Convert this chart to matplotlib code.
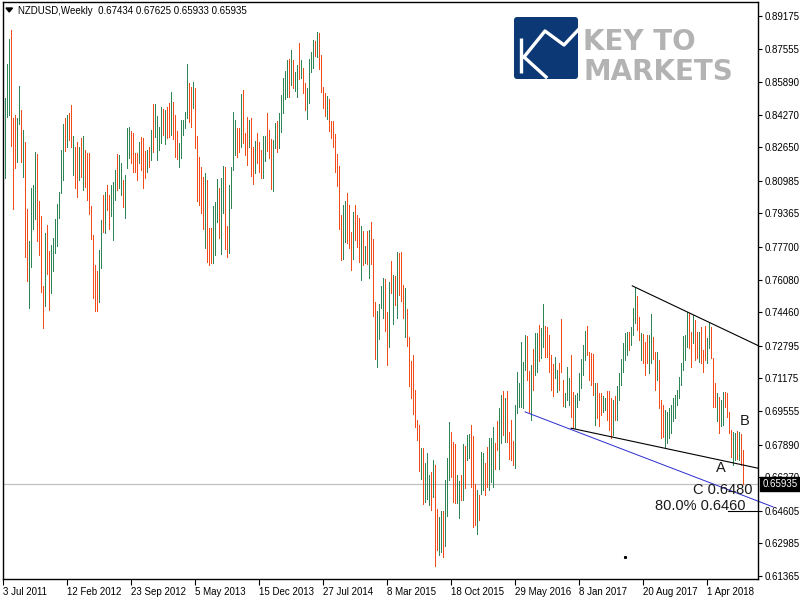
import numpy as np
import pandas as pd
import matplotlib
matplotlib.use('Agg')
import matplotlib.pyplot as plt
import matplotlib.transforms as mtransforms
from matplotlib.patches import FancyBboxPatch, Polygon

# NZDUSD weekly bars, 3 Jul 2011 .. 5 Aug 2018
start_date = '2011-07-03'

highs = [
    .8386, .8510, .8679, .8803, .8848, .8411, .8426, .8410, .8570, .8450,
    .8350, .8292, .7959, .7800, .8063, .8078, .8242, .8232, .8000, .7924,
    .7577, .7840, .7880, .7750, .7780, .7815, .7909, .7984, .8043, .8252,
    .8381, .8411, .8426, .8436, .8476, .8322, .8267, .8292, .8267, .8312,
    .8322, .8252, .8237, .8237, .7974, .7830, .7681, .7651, .7755, .7904,
    .8029, .8044, .8078, .8029, .8078, .8093, .8153, .8232, .8227, .8188,
    .8103, .8128, .8361, .8366, .8346, .8336, .8237, .8237, .8292, .8317,
    .8312, .8247, .8252, .8267, .8351, .8481, .8481, .8421, .8366, .8466,
    .8456, .8451, .8466, .8486, .8540, .8491, .8426, .8346, .8287, .8401,
    .8401, .8441, .8679, .8585, .8565, .8590, .8560, .8322, .8217, .8168,
    .8118, .8138, .8103, .7865, .7865, .7974, .7994, .8108, .8063, .8113,
    .8173, .8168, .7875, .8078, .8168, .8441, .8401, .8361, .8361, .8530,
    .8550, .8336, .8416, .8401, .8411, .8267, .8297, .8336, .8292, .8252,
    .8322, .8322, .8436, .8351, .8307, .8302, .8386, .8396, .8436, .8525,
    .8610, .8644, .8699, .8704, .8749, .8699, .8639, .8674, .8783, .8699,
    .8659, .8585, .8560, .8704, .8739, .8798, .8793, .8838, .8833, .8724,
    .8565, .8535, .8520, .8505, .8396, .8396, .8332, .8232, .8173, .7929,
    .7979, .7999, .8039, .7979, .7845, .7944, .7979, .7929, .7914, .7875,
    .7850, .7775, .7850, .7855, .7895, .7810, .7497, .7453, .7487, .7577,
    .7616, .7611, .7448, .7597, .7701, .7631, .7626, .7746, .7741, .7746,
    .7582, .7567, .7463, .7323, .7204, .7234, .7060, .6911, .6886, .6772,
    .6772, .6698, .6747, .6638, .6653, .6713, .6688, .6469, .6430, .6459,
    .6459, .6613, .6723, .6901, .6852, .6800, .6792, .6640, .6608, .6640,
    .6792, .6782, .6837, .6842, .6886, .6832, .6594, .6564, .6539, .6752,
    .6747, .6698, .6777, .6822, .6822, .6877, .6797, .6906, .6971, .7036,
    .7055, .7021, .7055, .6852, .6911, .6807, .6986, .7150, .7095, .7299,
    .7200, .7334, .7329, .7155, .7184, .7264, .7344, .7344, .7383, .7368,
    .7487, .7378, .7373, .7334, .7234, .7189, .7224, .7160, .7194, .7413,
    .7110, .7046, .7175, .7120, .7234, .7051, .7036, .7046, .7145, .7214,
    .7284, .7353, .7378, .7249, .7244, .7239, .7095, .7095, .7046, .7046,
    .7031, .7021, .7055, .7055, .7021, .7011, .7031, .7080, .7145, .7214,
    .7294, .7344, .7348, .7348, .7374, .7467, .7567, .7526, .7423, .7344,
    .7339, .7299, .7334, .7334, .7438, .7324, .7249, .7249, .7209, .7011,
    .6986, .6961, .6951, .6971, .6986, .7021, .7036, .7060, .7125, .7194,
    .7329, .7334, .7448, .7443, .7348, .7433, .7408, .7348, .7348, .7373,
    .7260, .7378, .7318, .7398, .7373, .7219, .7095, .7046, .7026, .7011,
    .7051, .7051, .7046, .6951, .6862, .6852, .6847, .6857, .6852, .6842,
    .67625,
]

lows = [
    .8237, .8113, .8416, .8426, .8272, .7959, .8163, .8190, .8380, .8190,
    .8120, .7721, .7601, .7467, .7671, .7860, .7909, .7800, .7730, .7547,
    .7368, .7477, .7636, .7457, .7542, .7651, .7740, .7775, .7914, .8039,
    .8103, .8247, .8267, .8302, .8267, .8128, .8063, .8019, .8103, .8118,
    .8053, .8068, .8004, .7934, .7810, .7517, .7453, .7453, .7497, .7666,
    .7845, .7840, .7954, .7860, .7924, .7805, .8004, .8053, .8063, .8029,
    .7969, .7914, .8162, .8212, .8188, .8143, .8143, .8103, .8188, .8153,
    .8063, .8113, .8143, .8168, .8202, .8242, .8317, .8202, .8252, .8287,
    .8327, .8282, .8312, .8317, .8327, .8307, .8217, .8207, .8168, .8212,
    .8327, .8361, .8411, .8391, .8366, .8461, .8262, .7999, .7979, .7939,
    .7860, .7766, .7696, .7681, .7691, .7691, .7731, .7895, .7815, .7736,
    .7939, .7761, .7721, .7741, .7964, .8153, .8227, .8217, .8242, .8267,
    .8287, .8227, .8178, .8267, .8123, .8083, .8138, .8188, .8143, .8113,
    .8113, .8198, .8247, .8212, .8058, .8049, .8262, .8242, .8262, .8341,
    .8436, .8505, .8515, .8515, .8575, .8560, .8545, .8515, .8605, .8610,
    .8535, .8451, .8406, .8486, .8639, .8659, .8719, .8714, .8654, .8540,
    .8461, .8421, .8406, .8346, .8312, .8267, .8143, .8073, .7860, .7706,
    .7711, .7795, .7790, .7765, .7656, .7711, .7805, .7770, .7696, .7607,
    .7681, .7691, .7686, .7616, .7686, .7428, .7214, .7175, .7314, .7467,
    .7418, .7353, .7184, .7274, .7542, .7388, .7482, .7418, .7532, .7502,
    .7418, .7324, .7279, .7080, .7020, .6941, .6877, .6812, .6658, .6618,
    .6494, .6504, .6519, .6489, .6464, .6529, .6186, .6266, .6241, .6256,
    .6231, .6286, .6435, .6613, .6628, .6504, .6499, .6499, .6425, .6514,
    .6514, .6574, .6713, .6720, .6579, .6380, .6390, .6345, .6415, .6544,
    .6564, .6539, .6579, .6564, .6604, .6579, .6668, .6762, .6668, .6797,
    .6837, .6802, .6802, .6718, .6713, .6688, .6673, .6946, .6976, .6976,
    .6971, .7160, .7110, .6951, .6911, .7060, .7135, .7150, .7204, .7219,
    .7274, .7224, .7224, .7150, .7060, .7031, .7120, .7051, .7060, .7150,
    .6980, .6976, .7011, .6986, .6926, .6872, .6872, .6976, .7011, .7070,
    .7135, .7209, .7234, .7110, .7085, .7036, .6886, .6921, .6882, .6936,
    .6951, .6961, .6911, .6862, .6822, .6837, .6911, .6911, .7011, .7085,
    .7150, .7209, .7234, .7259, .7284, .7333, .7393, .7358, .7309, .7209,
    .7194, .7135, .7194, .7145, .7194, .7214, .7060, .7110, .6971, .6822,
    .6827, .6777, .6797, .6822, .6847, .6906, .6921, .6986, .7021, .7085,
    .7160, .7209, .7274, .7269, .7175, .7294, .7209, .7219, .7199, .7194,
    .7150, .7209, .7194, .7269, .7219, .6976, .6976, .6906, .6847, .6882,
    .6887, .6976, .6926, .6847, .6728, .6688, .6713, .6718, .6713, .6688,
    .65933,
]

# u = bar closed above its open (green), d = below (red)
direction = (
    "uuuuddduud" "udduuuuddd" "dudduuuuuu" "ududduddud" "uddddddduu"
    "dudduuuduu" "duuuddddud" "ddududuuuu" "dudduddduu" "uuuddudddd"
    "duddduuudu" "udduuuuddu" "dddudduddd" "uuddduuduu" "uuududuudu"
    "dduuuududd" "dduddddddd" "uudddudddu" "dududdduuu" "uddudududd"
    "dudddddddu" "duuududduu" "duuuddduud" "uduudddudu" "udduuudduu"
    "dudddduuuu" "uudduduudu" "uddddduudd" "duuudduuuu" "uudddduddd"
    "uuddduduuu" "uuuduuuddu" "ddduuddudd" "duuuuuuuuu" "uuudduddud"
    "dduudddudu" "udddduudud" "d"
)

last_bar = (0.67434, 0.67625, 0.65933, 0.65935)  # O H L C
price_ticks = [0.89175, 0.87555, 0.85890, 0.84270, 0.82650, 0.80985, 0.79365,
               0.77700, 0.76080, 0.74460, 0.72795, 0.71175, 0.69555, 0.67890,
               0.66270, 0.64605, 0.62985, 0.61365]

# drawn objects: trend lines (bar index, price)
upper_line = ([314.5, 377.5], [0.7577, 0.7280])
lower_line = ([283.9, 377.5], [0.6870, 0.6671])
channel_line = ([260.9, 384.9], [0.6951, 0.6479])
fib_level = 0.6460
fib_span = [362.4, 377.5]

dates = pd.date_range(start_date, periods=len(highs), freq='W-SUN')
x = np.arange(len(highs))

tick_font = 'Liberation Sans'
up_col = '#2f8456'
dn_col = '#f04b18'

fig = plt.figure(figsize=(8, 6), dpi=100)
ax = fig.add_axes([2.7 / 800, 21 / 600, 755.3 / 800, 577 / 600])

cols = [up_col if d == 'u' else dn_col for d in direction]
ax.vlines(x, lows, highs, colors=cols, linewidth=0.5, antialiased=False)

ax.set_xlim(-0.3, 377.35)
ax.set_ylim(0.6121, 0.8987)

# current price line
ax.axhline(last_bar[3], color='#c0c0c0', lw=0.9, zorder=0)

# trend lines
ax.plot(*upper_line, color='black', lw=0.8)
ax.plot(*lower_line, color='black', lw=0.8)
ax.plot(*channel_line, color='#2b2bd0', lw=0.7, clip_on=False)
ax.plot(fib_span, [fib_level, fib_level], color='black', lw=0.8)
ax.plot([310.9], [0.6231], marker='s', ms=1.2, color='black')

lab = dict(fontsize=10.5, family=tick_font, color='#1a1a1a')
ax.text(374.5, 0.6526, 'C 0.6480', ha='right', va='bottom', **lab)
ax.text(370.9, 0.6449, '80.0% 0.6460', ha='right', va='bottom', **lab)
ax.text(358.6, 0.6670, 'A', ha='center', va='center', **lab)
ax.text(370.9, 0.6904, 'B', ha='center', va='center', **lab)

# axes styling
for s in ax.spines.values():
    s.set_color('black')
    s.set_linewidth(1.0)
ax.yaxis.tick_right()
ax.set_yticks(price_ticks)
ax.set_yticklabels([f'{v:.5f}' for v in price_ticks], family=tick_font, fontsize=7)
ax.tick_params(axis='y', direction='out', length=3, pad=2, width=0.8)

xt = list(range(0, len(highs), 32))
ax.set_xticks(xt)
ax.set_xticklabels([f'{dates[i].day} {dates[i]:%b %Y}' for i in xt],
                   family=tick_font, fontsize=7, ha='left')
ax.tick_params(axis='x', direction='out', length=4, pad=2, width=0.8)

# price tag on axis
blend = mtransforms.blended_transform_factory(ax.transAxes, ax.transData)
ax.text(1.006, last_bar[3], f'{last_bar[3]:.5f}', transform=blend, ha='left',
        va='center', color='white', family=tick_font, fontsize=7, clip_on=False,
        bbox=dict(boxstyle='square,pad=0.22', fc='black', ec='black'), zorder=5)

# overlay for header and logo (pixel coordinates)
ov = fig.add_axes([0, 0, 1, 1], facecolor='none')
ov.set_xlim(0, 800)
ov.set_ylim(600, 0)
ov.axis('off')

ov.add_patch(Polygon([[6, 8], [12.5, 8], [9.25, 12]], closed=True, color='black'))
ov.text(18, 10.5, 'NZDUSD,Weekly  ' + ' '.join(f'{v:.5f}' for v in last_bar),
        family=tick_font, fontsize=7, va='center', ha='left', color='black')

ov.add_patch(FancyBboxPatch((514, 17), 64, 62,
                            boxstyle='round,pad=0,rounding_size=3',
                            fc='#0c3876', ec='none'))
ov.plot([520.5, 520.5], [38, 73], color='white', lw=2.4, solid_capstyle='butt')
ov.plot([524, 545, 564, 579], [57, 31, 45, 29], color='white', lw=2.4)
ov.plot([524, 546], [57, 77], color='white', lw=2.4)
ov.text(583, 50, 'KEY TO', family='DejaVu Sans', fontsize=20, fontweight='bold',
        color='#b3b3b3', va='baseline', ha='left')
ov.text(583, 80, 'MARKETS', family='DejaVu Sans', fontsize=20, fontweight='bold',
        color='#b3b3b3', va='baseline', ha='left')

fig.savefig('out.png', dpi=100)
